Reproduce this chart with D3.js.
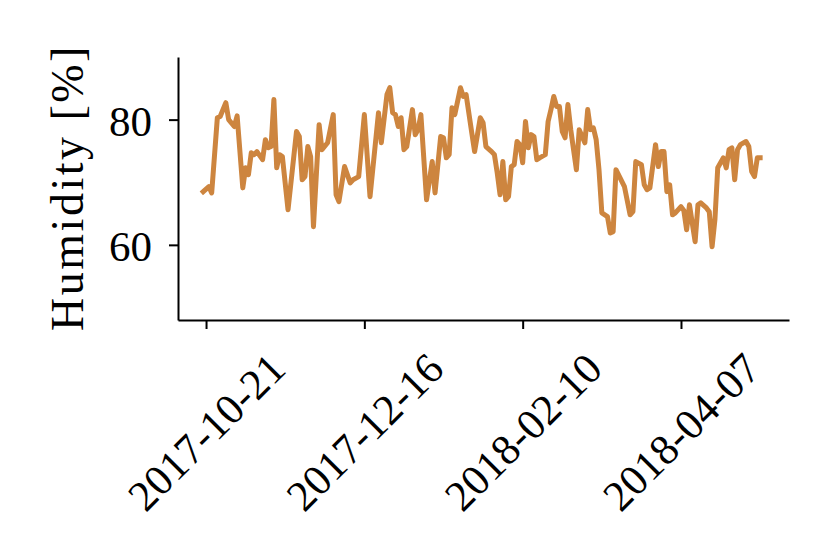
<!DOCTYPE html>
<html>
<head>
<meta charset="utf-8">
<script src="https://cdn.jsdelivr.net/npm/d3@7"></script>
<style>
  html, body { margin: 0; padding: 0; background: #fff; }
  svg { display: block; }
  text { font-family: "Liberation Serif", "Times New Roman", serif; fill: #000; }
</style>
</head>
<body>
<script>
// ---- data ----
const dates = [
  "2017-10-20","2017-10-22","2017-10-23","2017-10-25","2017-10-26","2017-10-28","2017-10-29",
  "2017-10-31","2017-11-01","2017-11-03","2017-11-04","2017-11-05","2017-11-06","2017-11-07",
  "2017-11-08","2017-11-10","2017-11-11","2017-11-12","2017-11-13","2017-11-14","2017-11-15",
  "2017-11-16","2017-11-17","2017-11-19","2017-11-22","2017-11-23","2017-11-24","2017-11-25",
  "2017-11-26","2017-11-27","2017-11-28","2017-11-30","2017-12-01","2017-12-03","2017-12-05",
  "2017-12-06","2017-12-07","2017-12-09","2017-12-11","2017-12-12","2017-12-14","2017-12-16",
  "2017-12-18","2017-12-21","2017-12-22","2017-12-24","2017-12-25","2017-12-26","2017-12-27",
  "2017-12-28","2017-12-29","2017-12-30","2017-12-31","2018-01-02","2018-01-03","2018-01-04",
  "2018-01-05","2018-01-07","2018-01-09","2018-01-10","2018-01-12","2018-01-13","2018-01-14",
  "2018-01-15","2018-01-16","2018-01-17","2018-01-19","2018-01-20","2018-01-21","2018-01-23",
  "2018-01-24","2018-01-26","2018-01-27","2018-01-28","2018-01-30","2018-01-31","2018-02-01",
  "2018-02-02","2018-02-03","2018-02-04","2018-02-05","2018-02-06","2018-02-07","2018-02-08",
  "2018-02-09","2018-02-10","2018-02-11","2018-02-12","2018-02-13","2018-02-14","2018-02-15",
  "2018-02-16","2018-02-18","2018-02-19","2018-02-20","2018-02-21","2018-02-22","2018-02-23",
  "2018-02-24","2018-02-25","2018-02-26","2018-02-27","2018-03-01","2018-03-02","2018-03-04",
  "2018-03-05","2018-03-06","2018-03-07","2018-03-08","2018-03-09","2018-03-10","2018-03-12",
  "2018-03-13","2018-03-14","2018-03-15","2018-03-18","2018-03-20","2018-03-21","2018-03-22",
  "2018-03-24","2018-03-25","2018-03-26","2018-03-27","2018-03-29","2018-03-30","2018-03-31",
  "2018-04-01","2018-04-02","2018-04-03","2018-04-04","2018-04-05","2018-04-07","2018-04-08",
  "2018-04-09","2018-04-10","2018-04-12","2018-04-13","2018-04-14","2018-04-16","2018-04-17",
  "2018-04-18","2018-04-19","2018-04-20","2018-04-22","2018-04-23","2018-04-24","2018-04-25",
  "2018-04-26","2018-04-27","2018-04-28","2018-04-30","2018-05-01","2018-05-02","2018-05-03",
  "2018-05-04","2018-05-05","2018-05-06"
];
const humidity = [
  68.5, 69.3, 68.3, 80.3, 80.5, 82.7, 80.0,
  78.9, 80.6, 69.1, 72.3, 71.2, 74.7, 74.4,
  74.9, 73.6, 76.8, 75.5, 75.7, 83.2, 72.3,
  74.4, 74.1, 65.6, 78.1, 77.3, 70.4, 70.9,
  75.7, 74.1, 62.9, 79.2, 75.2, 76.3, 80.8,
  68.0, 66.9, 72.5, 69.9, 70.4, 70.9, 80.8,
  67.7, 81.1, 76.3, 84.0, 85.1, 81.1, 80.8,
  78.9, 80.3, 75.2, 75.7, 81.6, 77.6, 78.4,
  80.8, 67.2, 73.3, 68.3, 77.3, 77.1, 73.9,
  74.4, 81.9, 80.8, 85.1, 83.7, 84.0, 77.9,
  74.9, 80.3, 79.5, 75.7, 74.9, 74.4, 71.5,
  68.0, 73.3, 67.2, 67.7, 72.5, 72.8, 76.5,
  76.0, 73.1, 79.7, 75.5, 77.6, 77.3, 73.6,
  73.9, 74.4, 79.7, 81.6, 83.7, 82.1, 82.1,
  78.1, 77.1, 82.4, 78.4, 72.0, 78.4, 76.3,
  81.6, 78.4, 78.7, 76.8, 72.0, 65.1, 64.5,
  61.9, 62.1, 72.0, 69.3, 64.8, 65.3, 73.3,
  72.8, 69.6, 68.8, 69.1, 76.0, 72.5, 74.9,
  74.9, 68.5, 69.6, 64.8, 65.1, 66.1, 65.5,
  62.4, 66.4, 60.5, 66.4, 66.7, 65.9, 65.3,
  59.7, 64.0, 72.3, 73.9, 72.3, 75.2, 75.5,
  70.4, 75.2, 76.0, 76.5, 75.7, 71.7, 70.9,
  73.9, 73.9
];
const xTickLabels = ["2017-10-21", "2017-12-16", "2018-02-10", "2018-04-07"];
const yTickValues = [60, 80];
const yLabel = "Humidity [%]";
const yLimits = [48, 90];
const xLimits = ["2017-10-11T02:00", "2018-05-15T05:00"];

// ---- drawing ----
const W = 830, H = 554;
const parseDay = d3.utcParse("%Y-%m-%d");
const parseLim = d3.utcParse("%Y-%m-%dT%H:%M");
const n = Math.min(dates.length, humidity.length);
const data = d3.range(n).map(i => ({ date: parseDay(dates[i]), value: humidity[i] }));

const plotLeft = 178, plotRight = 789, plotTop = 57, plotBottom = 320;

const x = d3.scaleUtc().domain(xLimits.map(parseLim)).range([plotLeft, plotRight]);
const y = d3.scaleLinear().domain(yLimits).range([plotBottom, plotTop]);

const svg = d3.select("body").append("svg").attr("width", W).attr("height", H);

// line
const line = d3.line().x(d => x(d.date)).y(d => y(d.value));
svg.append("path")
  .datum(data)
  .attr("fill", "none")
  .attr("stroke", "#CD853F")
  .attr("stroke-width", 5)
  .attr("stroke-linejoin", "round")
  .attr("stroke-linecap", "square")
  .attr("d", line);

// y axis
const yAxis = d3.axisLeft(y).tickValues(yTickValues).tickSize(9).tickPadding(17).tickSizeOuter(0);
const gy = svg.append("g").attr("transform", `translate(${plotLeft},0)`).call(yAxis);
gy.select(".domain").attr("stroke", "#000").attr("stroke-width", 2);
gy.selectAll(".tick line").attr("stroke", "#000").attr("stroke-width", 2);
gy.selectAll(".tick text").attr("font-size", 43).attr("font-family", "Liberation Serif").attr("dy", "0.36em");

// x axis
const xTicks = xTickLabels.map(parseDay);
const xAxis = d3.axisBottom(x).tickValues(xTicks).tickSize(9).tickSizeOuter(0).tickFormat(d3.utcFormat("%Y-%m-%d"));
const gx = svg.append("g").attr("transform", `translate(0,${plotBottom})`).call(xAxis);
gx.select(".domain").attr("stroke", "#000").attr("stroke-width", 2);
gx.selectAll(".tick line").attr("stroke", "#000").attr("stroke-width", 2);
gx.selectAll(".tick text")
  .attr("font-size", 43)
  .attr("font-family", "Liberation Serif")
  .attr("text-anchor", "middle")
  .attr("dominant-baseline", "central")
  .attr("x", 0).attr("y", 0).attr("dy", null)
  .attr("transform", "translate(0,112) rotate(-45)");

// y label
svg.append("text")
  .attr("transform", `translate(67,${(plotTop + plotBottom) / 2 - 1}) rotate(-90)`)
  .attr("text-anchor", "middle")
  .attr("dominant-baseline", "central")
  .attr("font-size", 46)
  .attr("letter-spacing", 2.5)
  .text(yLabel);
</script>
</body>
</html>
